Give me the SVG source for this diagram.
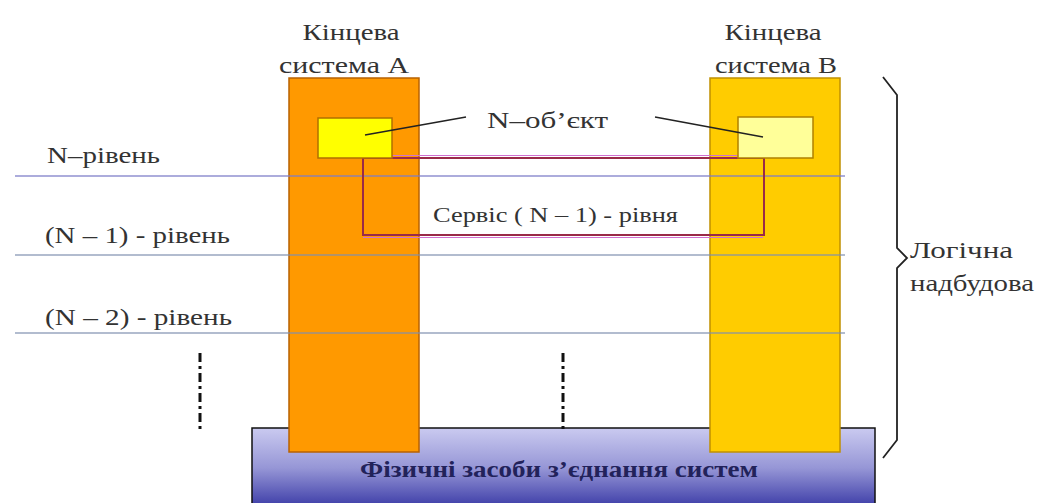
<svg xmlns="http://www.w3.org/2000/svg" width="1038" height="503" viewBox="0 0 1038 503" font-family="'Liberation Serif', 'DejaVu Serif', serif">
<style>
text{font-family:'Liberation Serif','DejaVu Serif',serif;fill:#333}
.lbl{font-size:23px}
.lvl{stroke-width:1.5;fill:none}
.dd{stroke:#111;stroke-width:3;stroke-dasharray:9 4 3 4;fill:none}
</style>
<defs>
<linearGradient id="barg" x1="0" y1="0" x2="0" y2="1">
<stop offset="0" stop-color="#CACAF0"/>
<stop offset="0.5" stop-color="#9696D6"/>
<stop offset="1" stop-color="#3A3AA6"/>
</linearGradient>
</defs>
<rect width="1038" height="503" fill="#fff"/>
<g id="bar">
<rect x="252" y="428" width="623" height="80" fill="url(#barg)" stroke="#111" stroke-width="1.5"/>
<text x="559" y="477" text-anchor="middle" font-size="24" font-weight="bold" style="fill:#22225a" textLength="398" lengthAdjust="spacingAndGlyphs">Фізичні засоби з’єднання систем</text>
</g>
<g id="systemA">
<rect x="289" y="78" width="130" height="374" fill="#FF9900" stroke="#B86200" stroke-width="1.5"/>
<text class="lbl" x="351" y="40" text-anchor="middle" textLength="97" lengthAdjust="spacingAndGlyphs">Кінцева</text>
<text class="lbl" x="344" y="73" text-anchor="middle" textLength="130" lengthAdjust="spacingAndGlyphs">система А</text>
</g>
<g id="systemB">
<rect x="710" y="78" width="130" height="374" fill="#FFCC00" stroke="#C09000" stroke-width="1.5"/>
<text class="lbl" x="773" y="40" text-anchor="middle" textLength="97" lengthAdjust="spacingAndGlyphs">Кінцева</text>
<text class="lbl" x="776" y="73" text-anchor="middle" textLength="122" lengthAdjust="spacingAndGlyphs">система В</text>
</g>
<g id="levels">
<line class="lvl" x1="15" y1="176" x2="845" y2="176" stroke="#7C7CC8" opacity="0.85"/>
<line class="lvl" x1="15" y1="255" x2="845" y2="255" stroke="#8090B0" opacity="0.8"/>
<line class="lvl" x1="15" y1="333" x2="845" y2="333" stroke="#8090B0" opacity="0.8"/>
<text class="lbl" x="47" y="163" textLength="113" lengthAdjust="spacingAndGlyphs">N–рівень</text>
<text class="lbl" x="45" y="243" textLength="185" lengthAdjust="spacingAndGlyphs">(N – 1) - рівень</text>
<text class="lbl" x="45" y="325" textLength="187" lengthAdjust="spacingAndGlyphs">(N –  2) - рівень</text>
</g>
<g id="service">
<line x1="363" y1="155.5" x2="763" y2="155.5" stroke="#D070D0" stroke-width="1.2"/>
<line x1="363" y1="237.5" x2="763" y2="237.5" stroke="#D070D0" stroke-width="1.2"/>
<rect x="363" y="158" width="401" height="77" fill="none" stroke="#9A2A48" stroke-width="2"/>
<text x="433" y="222" font-size="21" textLength="245" lengthAdjust="spacingAndGlyphs">Сервіс (  N – 1) - рівня</text>
</g>
<g id="objectA">
<rect x="318" y="118" width="74" height="40" fill="#FFFF00" stroke="#B07000" stroke-width="1.5"/>
</g>
<g id="objectB">
<rect x="738" y="117" width="75" height="41" fill="#FFFF99" stroke="#B08000" stroke-width="1.5"/>
</g>
<g id="objectLabel">
<text x="487" y="128" font-size="24" textLength="121" lengthAdjust="spacingAndGlyphs">N–об’єкт</text>
</g>
<g id="connectors">
<line x1="365" y1="135" x2="466" y2="117" stroke="#222" stroke-width="1.5"/>
<line x1="655" y1="117" x2="763" y2="137" stroke="#222" stroke-width="1.5"/>
<line class="dd" x1="200" y1="353" x2="200" y2="432"/>
<line class="dd" x1="563" y1="353" x2="563" y2="432"/>
</g>
<g id="brace">
<path d="M883,77 L897,95 L897,248 L907,258 L897,268 L897,440 L883,458" fill="none" stroke="#222" stroke-width="1.8"/>
<text class="lbl" x="910" y="258" textLength="103" lengthAdjust="spacingAndGlyphs">Логічна</text>
<text class="lbl" x="910" y="291" textLength="124" lengthAdjust="spacingAndGlyphs">надбудова</text>
</g>
</svg>
